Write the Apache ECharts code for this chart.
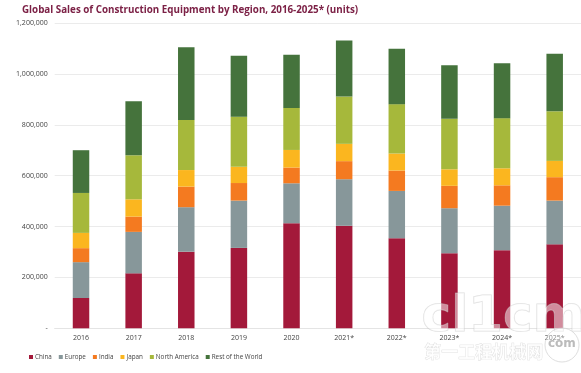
<!DOCTYPE html>
<html><head><meta charset="utf-8">
<style>html,body{margin:0;padding:0;background:#fff}#c{width:581px;height:373px}</style>
<script src="https://cdn.jsdelivr.net/npm/echarts@6/dist/echarts.min.js"></script>
</head><body><div id="c"></div>
<script>
const titleText = 'Global Sales of Construction Equipment by Region, 2016-2025* (units)';
const years = ['2016','2017','2018','2019','2020','2021*','2022*','2023*','2024*','2025*'];
const china = [119000,216000,301000,316000,413000,403000,354000,295000,307000,330000];
const europe = [141000,163000,175000,186000,157000,183000,186000,177000,175000,172000];
const india = [55000,60000,81000,69000,62000,71000,80000,88000,80000,92000];
const japan = [60000,68000,65000,64000,69000,68000,67000,65000,67000,64000];
const northAmerica = [157000,173000,197000,197000,165000,186000,194000,199000,197000,195000];
const restOfWorld = [168000,212000,286000,239000,209000,220000,218000,210000,216000,226000];
const names = ['China','Europe','India','Japan','North America','Rest of the World'];
const colors = ['#a3193a','#87979a','#f47a20','#fbb61f','#a6b83b','#45733c'];
const groups = [china,europe,india,japan,northAmerica,restOfWorld];
const font = 'Open Sans';
const chart = echarts.init(document.getElementById('c'),null,{renderer:'canvas'});
chart.setOption({
  animation:false,
  backgroundColor:'#fff',
  color:colors,
  title:{text:titleText,left:17,top:0,textStyle:{fontFamily:font,fontSize:9.8,fontWeight:'bold',color:'#7c2146'}},
  legend:{left:24,top:349,itemWidth:4,itemHeight:4,itemGap:7,icon:'rect',
    textStyle:{fontFamily:font,fontSize:6.3,color:'#444',padding:[0,0,0,-3]},data:names},
  grid:{left:54.7,right:0,top:23,bottom:44.7},
  xAxis:{type:'category',data:years,axisLine:{lineStyle:{color:'#e4e4e4',width:1}},axisTick:{show:false},
    axisLabel:{fontFamily:font,fontSize:7,color:'#444',margin:6,interval:0}},
  yAxis:{type:'value',min:0,max:1200000,interval:200000,axisLine:{show:false},axisTick:{show:false},
    splitLine:{lineStyle:{color:'#ebebeb',width:1}},
    axisLabel:{fontFamily:font,fontSize:7,color:'#444',margin:7,
      formatter:v=>v===0?'-':v.toLocaleString('en-US')}},
  series:groups.map((d,i)=>({name:names[i],type:'bar',stack:'total',data:d,barWidth:16.5,itemStyle:{color:colors[i]}})),
  graphic:[
    {type:'text',z:100,left:421,top:293,style:{text:'cl1cm',fontFamily:'DejaVu Sans',fontSize:50,fontWeight:'bold',fill:'rgba(255,255,255,0.5)',stroke:'rgba(190,190,190,0.5)',lineWidth:1}},
    {type:'text',z:100,left:424,top:343,style:{text:'第一工程机械网',fontFamily:'Noto Sans CJK SC',fontSize:17,fontWeight:'bold',fill:'rgba(255,255,255,0.7)',stroke:'rgba(190,190,190,0.6)',lineWidth:0.6}},
    {type:'circle',z:100,shape:{cx:562,cy:345,r:17},style:{fill:'rgba(255,255,255,0.35)',stroke:'rgba(200,200,200,0.6)',lineWidth:1}},
    {type:'text',z:101,left:548,top:338,style:{text:'com',fontFamily:'DejaVu Sans',fontSize:12,fontWeight:'bold',fill:'rgba(170,170,170,0.8)'}}
  ]
});
</script></body></html>
